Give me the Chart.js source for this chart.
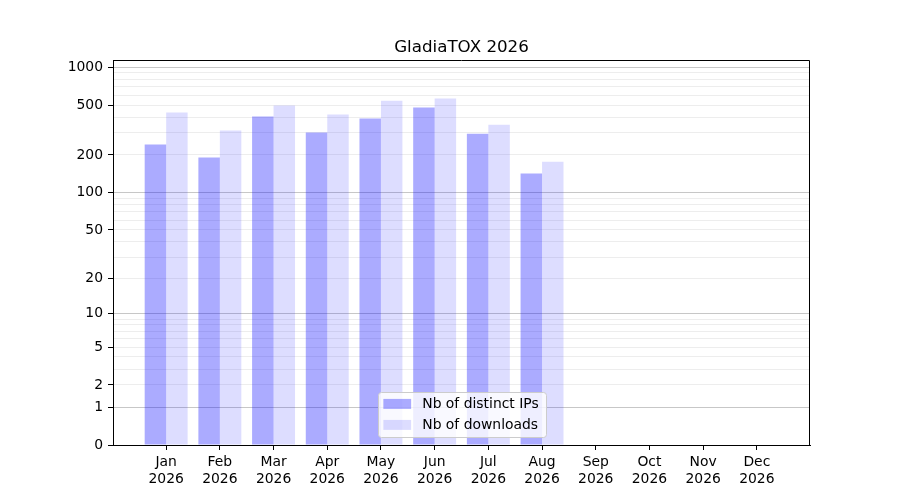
<!DOCTYPE html>
<html>
<head>
<meta charset="utf-8">
<script src="https://cdn.jsdelivr.net/npm/chart.js@4.4.1/dist/chart.umd.min.js"></script>
<style>
  html, body { margin: 0; padding: 0; background: #fff; }
  #wrap { width: 900px; height: 500px; }
</style>
</head>
<body>
<div id="wrap"><canvas id="chart" width="900" height="500"></canvas></div>
<script>
// ── Data ──────────────────────────────────────────────────────────────────
const months      = ['Jan', 'Feb', 'Mar', 'Apr', 'May', 'Jun', 'Jul', 'Aug', 'Sep', 'Oct', 'Nov', 'Dec'];
const year        = '2026';
const distinctIPs = [243, 191, 405, 302, 390, 477, 296, 142, 0, 0, 0, 0];
const downloads   = [436, 313, 495, 420, 542, 563, 349, 177, 0, 0, 0, 0];
const yTickLabels = [0, 1, 2, 5, 10, 20, 50, 100, 200, 500, 1000];
const yMajorGrid  = [1, 10, 100, 1000];
const yTop        = 1140;

const FONT   = 'DejaVu Sans';
const colIP  = 'rgba(0,0,255,0.33)';
const colDL  = 'rgba(0,0,255,0.135)';

// y axis is log10(1 + v)
const fwd = v => Math.log10(1 + v);

// grid positions: labelled ticks plus 2..9 in each decade
const gridSet = new Set(yTickLabels);
for (let dec = 1; dec <= 100; dec *= 10)
  for (let k = 2; k <= 9; k++) gridSet.add(k * dec);
const gridVals = [...gridSet].sort((a, b) => a - b);

// ── Frame + legend (matplotlib style, inside the axes) ────────────────────
const framePlugin = {
  id: 'frameLegend',
  afterDraw(chart) {
    const { ctx, chartArea: a } = chart;
    ctx.save();
    ctx.strokeStyle = '#000';
    ctx.lineWidth = 1;
    ctx.beginPath();
    ctx.moveTo(Math.round(a.left) + 0.5, Math.round(a.top) + 0.5);
    ctx.lineTo(Math.round(a.right) - 0.5, Math.round(a.top) + 0.5);
    ctx.lineTo(Math.round(a.right) - 0.5, Math.round(a.bottom));
    ctx.stroke();

    // legend
    const fs = 13.9, pad = 5.6, hl = 27.8, htp = 11.1, rowH = 21;
    ctx.font = `${fs}px "${FONT}"`;
    const sets = chart.data.datasets;
    const tw = Math.max(...sets.map(d => ctx.measureText(d.label).width));
    const w = pad + hl + htp + tw + pad + 1;
    const h = pad * 2 + rowH * sets.length - 8;
    const x = (a.left + a.right) / 2 - w / 2;
    const y = a.bottom - 8 - h;
    ctx.beginPath();
    ctx.roundRect(Math.round(x) + 0.5, Math.round(y) + 0.5, Math.round(w), Math.round(h), 3);
    ctx.fillStyle = 'rgba(255,255,255,0.8)';
    ctx.fill();
    ctx.strokeStyle = '#cccccc';
    ctx.stroke();
    sets.forEach((d, i) => {
      const cy = y + pad + 6.5 + i * rowH;
      ctx.fillStyle = d.backgroundColor;
      ctx.fillRect(x + pad, cy - 5, hl, 10);
      ctx.fillStyle = '#000';
      ctx.textBaseline = 'middle';
      ctx.textAlign = 'left';
      ctx.fillText(d.label, x + pad + hl + htp, cy);
    });
    ctx.restore();
  }
};

// ── Chart ─────────────────────────────────────────────────────────────────
Chart.defaults.font.family = FONT;
Chart.defaults.color = '#000';

new Chart(document.getElementById('chart'), {
  type: 'bar',
  plugins: [framePlugin],
  data: {
    datasets: [
      { label: 'Nb of distinct IPs', data: months.map((m, i) => ({ x: i, y: fwd(distinctIPs[i]) })),
        backgroundColor: colIP, borderWidth: 0, categoryPercentage: 0.8, barPercentage: 1 },
      { label: 'Nb of downloads', data: months.map((m, i) => ({ x: i, y: fwd(downloads[i]) })),
        backgroundColor: colDL, borderWidth: 0, categoryPercentage: 0.8, barPercentage: 1 }
    ]
  },
  options: {
    responsive: false, animation: false, devicePixelRatio: 1,
    layout: { padding: { top: 36, right: 90, bottom: 0, left: 0 } },
    plugins: {
      legend: { display: false },
      tooltip: { enabled: false },
      title: { display: true, fullSize: false, text: 'GladiaTOX 2026', color: '#000',
               font: { family: FONT, size: 16.7, weight: 'normal' }, padding: { top: 2, bottom: 2 } }
    },
    scales: {
      x: { type: 'linear', min: -0.99, max: 11.99, offset: false,
           afterBuildTicks: s => { s.ticks = months.map((m, i) => ({ value: i })); },
           afterFit: s => { s.height = 55; },
           ticks: { autoSkip: false, maxRotation: 0, color: '#000', font: { size: 13.9 }, padding: 4,
                    callback: (v, i) => [months[i], year] },
           grid: { offset: false, drawOnChartArea: false, drawTicks: true, tickLength: 5, tickColor: '#000' },
           border: { color: '#000', width: 1 } },
      y: { type: 'linear', min: 0, max: fwd(yTop), z: 1,
           afterBuildTicks: s => { s.ticks = gridVals.map(v => ({ value: fwd(v) })); },
           afterFit: s => { s.width = 113; },
           ticks: { autoSkip: false, color: '#000', font: { size: 13.9 }, padding: 5,
                    callback: (v, i) => yTickLabels.includes(gridVals[i]) ? String(gridVals[i]) : '' },
           grid: {
             lineWidth: 1, tickLength: 5,
             color: c => {
               const v = gridVals[c.index];
               if (v === undefined || v === 0) return 'rgba(0,0,0,0)';
               return yMajorGrid.includes(v) ? 'rgba(0,0,0,0.22)' : 'rgba(0,0,0,0.07)';
             },
             tickColor: c => yTickLabels.includes(gridVals[c.index]) ? '#000' : 'rgba(0,0,0,0)'
           },
           border: { color: '#000', width: 1 } }
    }
  }
});
</script>
</body>
</html>
